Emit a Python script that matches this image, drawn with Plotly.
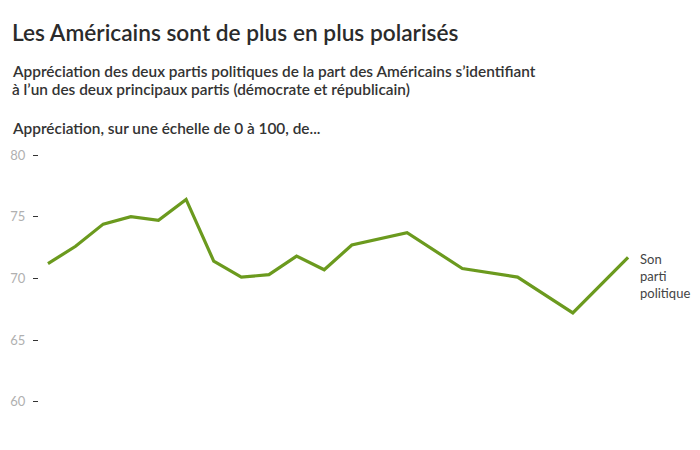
import plotly.graph_objects as go

years = [1978, 1980, 1982, 1984, 1986, 1988, 1990, 1992, 1994, 1996, 1998, 2000,
         2004, 2008, 2012, 2016, 2020]
own_party = [71.2, 72.6, 74.4, 75.0, 74.7, 76.4, 71.4, 70.1, 70.3, 71.8, 70.7, 72.7,
             73.7, 70.8, 70.1, 67.2, 71.7]
y_ticks = [60, 65, 70, 75, 80]

title = "Les Américains sont de plus en plus polarisés"
subtitle1 = "Appréciation des deux partis politiques de la part des Américains s’identifiant"
subtitle2 = "à l’un des deux principaux partis (démocrate et républicain)"
axis_note = "Appréciation, sur une échelle de 0 à 100, de..."
series_label = "Son<br>parti<br>politique"

# page offset (browser body margin)
OFF = 8
W, H = 700, 450
# target plot area in screenshot pixels
PL, PR, PT, PB = 39, 630, 155, 440
L, R, T, B = PL - OFF, W - (PR - OFF), PT - OFF, H - (PB - OFF)
pw, ph = PR - PL, PB - PT

def px(x):
    return (x - PL) / pw

def py(y):
    return (PB - y) / ph

fig = go.Figure()
fig.add_trace(go.Scatter(
    x=years, y=own_party, mode="lines",
    line=dict(color="#6b9a1e", width=3.2),
    hoverinfo="skip", showlegend=False,
))

font = "Lato, 'Open Sans', sans-serif"
ann = []
ann.append(dict(text=title, x=px(10), y=py(32), xref="paper", yref="paper",
                xanchor="left", yanchor="middle", showarrow=False,
                font=dict(family=font, size=22.7, color="#2b2b2b", weight=600)))
ann.append(dict(text=subtitle1, x=px(10), y=py(71), xref="paper", yref="paper",
                xanchor="left", yanchor="middle", showarrow=False,
                font=dict(family=font, size=15.4, color="#333333", weight=600)))
ann.append(dict(text=subtitle2, x=px(10), y=py(89), xref="paper", yref="paper",
                xanchor="left", yanchor="middle", showarrow=False,
                font=dict(family=font, size=15.4, color="#333333", weight=600)))
ann.append(dict(text=axis_note, x=px(10), y=py(128), xref="paper", yref="paper",
                xanchor="left", yanchor="middle", showarrow=False,
                font=dict(family=font, size=15.4, color="#333333", weight=600)))
ann.append(dict(text=series_label, x=years[-1], y=own_party[-1], xref="x", yref="y",
                xanchor="left", yanchor="top", xshift=10, yshift=8, showarrow=False,
                align="left",
                font=dict(family=font, size=13, color="#444444")))

fig.update_layout(
    width=W, height=H,
    margin=dict(l=L, r=R, t=T, b=B, autoexpand=False),
    paper_bgcolor="white", plot_bgcolor="white",
    annotations=ann,
    xaxis=dict(range=[1977.35, 2020.14], visible=False, showgrid=False, zeroline=False,
               automargin=False),
    yaxis=dict(range=[56.9, 80], tickvals=y_ticks, ticks="outside", ticklen=5,
               tickwidth=1, tickcolor="#333333", showgrid=False, zeroline=False,
               showline=False, ticklabelstandoff=5, automargin=False,
               tickfont=dict(family=font, size=13, color="#b0b0b0")),
)

fig.write_html("out.html")
